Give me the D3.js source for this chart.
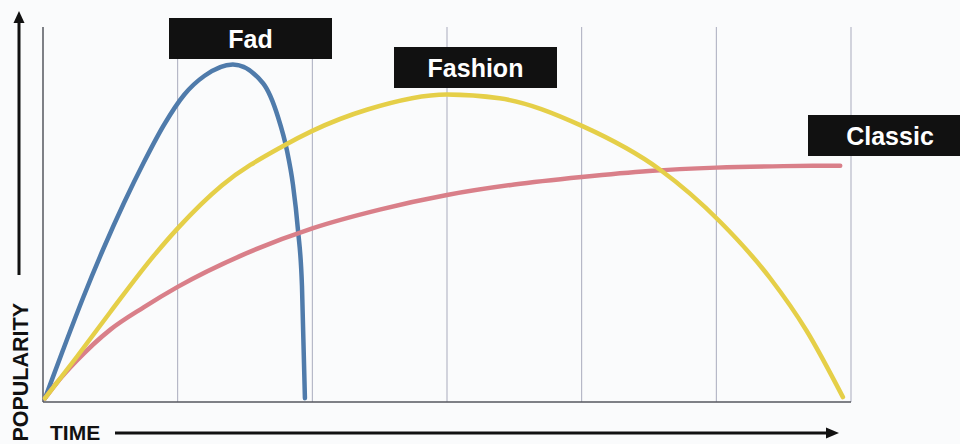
<!DOCTYPE html>
<html>
<head>
<meta charset="utf-8">
<script src="https://cdn.jsdelivr.net/npm/d3@7"></script>
<style>
  body { margin: 0; background: #fafbfc; }
  svg { display: block; font-family: "Liberation Sans", Arial, sans-serif; }
</style>
</head>
<body>
<div id="chart"></div>
<script>
// Product life cycle curves (time units, popularity 0-100)
const gridTicks = [1, 2, 3, 4, 5, 6];

const fadTime = [0.015, 0.15, 0.3, 0.45, 0.6, 0.75, 0.9, 1.05, 1.2, 1.41, 1.634, 1.745, 1.812, 1.856, 1.893, 1.923, 1.945];
const fadPop  = [1, 14, 28, 41, 53, 64, 74, 82, 87, 90, 85, 76, 67, 58, 46, 31, 1];

const fashionTime = [0.015, 0.25, 0.5, 0.83, 1.0, 1.33, 1.78, 2.0, 2.41, 3.0, 3.39, 4.01, 4.58, 5.03, 5.40, 5.67, 5.94];
const fashionPop  = [1, 12, 24, 39.3, 46.3, 57.8, 68.2, 72.3, 78, 82, 81, 73.5, 62, 48, 33, 19, 1.3];

const classicTime = [0.015, 0.1, 0.25, 0.5, 0.75, 1.0, 1.5, 2.0, 2.5, 3.0, 3.5, 4.0, 4.5, 5.0, 5.5, 5.92];
const classicPop  = [1, 5, 11, 19.3, 25.3, 30.7, 39.5, 46.3, 51.3, 55.2, 58, 60, 61.6, 62.5, 62.9, 63];

const labels = ["Fad", "Fashion", "Classic"];

const width = 960, height = 444;

const svg = d3.select("#chart")
  .append("svg")
  .attr("width", width)
  .attr("height", height);

svg.append("rect")
  .attr("width", width)
  .attr("height", height)
  .attr("fill", "#fafbfc");

// scales
const x = d3.scaleLinear().domain([0, 6]).range([43, 851]);
const y = d3.scaleLinear().domain([0, 100]).range([402, 27]);

// vertical grid lines
svg.selectAll(".grid")
  .data(gridTicks)
  .enter()
  .append("line")
  .attr("class", "grid")
  .attr("x1", d => x(d))
  .attr("x2", d => x(d))
  .attr("y1", y(100))
  .attr("y2", y(0))
  .attr("stroke", "#a9abbd")
  .attr("stroke-width", 1);

// left and bottom frame
svg.append("line")
  .attr("x1", x(0)).attr("x2", x(0))
  .attr("y1", y(100)).attr("y2", y(0))
  .attr("stroke", "#55575f").attr("stroke-width", 1.5);

svg.append("line")
  .attr("x1", x(0)).attr("x2", x(6))
  .attr("y1", y(0)).attr("y2", y(0))
  .attr("stroke", "#55575f").attr("stroke-width", 1.5);

// curves
const line = d3.line()
  .x(d => x(d[0]))
  .y(d => y(d[1]))
  .curve(d3.curveMonotoneX);

const series = [
  { time: fadTime, pop: fadPop, color: "#4f7bab" },
  { time: classicTime, pop: classicPop, color: "#d97f89" },
  { time: fashionTime, pop: fashionPop, color: "#e5cf48" }
];

series.forEach(s => {
  svg.append("path")
    .datum(d3.zip(s.time, s.pop))
    .attr("d", line)
    .attr("fill", "none")
    .attr("stroke", s.color)
    .attr("stroke-width", 4.5)
    .attr("stroke-linecap", "round");
});

// label boxes
const boxes = [
  { x: 169, y: 18, w: 163 },
  { x: 394, y: 47, w: 163 },
  { x: 808, y: 115, w: 152 }
];

boxes.forEach((b, i) => {
  svg.append("rect")
    .attr("x", b.x)
    .attr("y", b.y)
    .attr("width", b.w)
    .attr("height", 41)
    .attr("fill", "#111111");

  svg.append("text")
    .attr("x", i === 2 ? b.x + 82 : b.x + b.w / 2)
    .attr("y", b.y + 30)
    .attr("text-anchor", "middle")
    .attr("fill", "#ffffff")
    .style("font-size", "25px")
    .style("font-weight", "bold")
    .text(labels[i]);
});

// axis arrows
svg.append("line")
  .attr("x1", 19).attr("x2", 19)
  .attr("y1", 275).attr("y2", 20)
  .attr("stroke", "#111").attr("stroke-width", 3);
svg.append("path")
  .attr("d", "M19,11 L13.5,23 L24.5,23 Z")
  .attr("fill", "#111");

svg.append("line")
  .attr("x1", 115).attr("x2", 828)
  .attr("y1", 433).attr("y2", 433)
  .attr("stroke", "#111").attr("stroke-width", 3);
svg.append("path")
  .attr("d", "M839,433 L826,427.5 L826,438.5 Z")
  .attr("fill", "#111");

// axis titles
svg.append("text")
  .attr("transform", "translate(28, 303) rotate(-90)")
  .attr("text-anchor", "end")
  .attr("fill", "#111")
  .style("font-size", "21.5px")
  .style("font-weight", "bold")
  .text("POPULARITY");

svg.append("text")
  .attr("x", 50)
  .attr("y", 440)
  .attr("fill", "#111")
  .style("font-size", "21px")
  .style("font-weight", "bold")
  .text("TIME");
</script>
</body>
</html>
